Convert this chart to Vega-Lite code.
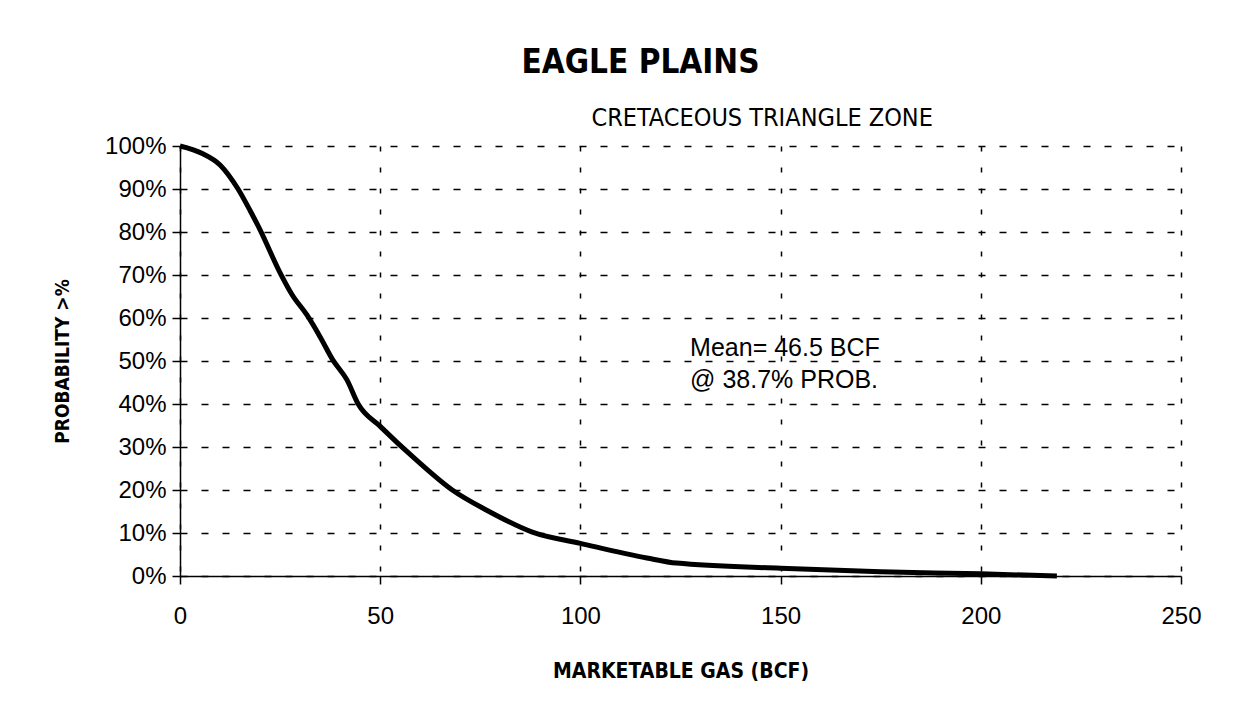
{
  "$schema": "https://vega.github.io/schema/vega-lite/v6.json",
  "width": 1001,
  "height": 430,
  "autosize": {"type": "none"},
  "padding": {"left": 180, "top": 146, "right": 58, "bottom": 145},
  "background": "white",
  "config": {
    "view": {"stroke": null},
    "font": "Liberation Sans",
    "axis": {
      "domainColor": "black",
      "domainWidth": 1.5,
      "tickColor": "black",
      "tickWidth": 1.5,
      "tickSize": 8,
      "labelColor": "black",
      "labelFontSize": 24,
      "labelFont": "Liberation Sans",
      "labelFlush": false,
      "titleColor": "black",
      "titleFontWeight": "bold",
      "titleFont": "DejaVu Sans Condensed",
      "gridColor": "black",
      "gridWidth": 1.5,
      "gridOpacity": 1
    }
  },
  "title": {
    "text": "EAGLE PLAINS",
    "font": "DejaVu Sans Condensed",
    "fontSize": 33,
    "fontWeight": "bold",
    "color": "black",
    "anchor": "middle",
    "dx": -40,
    "offset": 68,
    "dy": 42
  },
  "datasets": {
    "curve": [
      {"gas": 0, "prob": 1.0},
      {"gas": 5.7, "prob": 0.982},
      {"gas": 10, "prob": 0.956},
      {"gas": 14.5, "prob": 0.9},
      {"gas": 17.5, "prob": 0.85},
      {"gas": 20, "prob": 0.805},
      {"gas": 25, "prob": 0.705},
      {"gas": 28, "prob": 0.654},
      {"gas": 31.7, "prob": 0.607},
      {"gas": 35, "prob": 0.556},
      {"gas": 38.2, "prob": 0.502},
      {"gas": 41.7, "prob": 0.456},
      {"gas": 44.5, "prob": 0.4},
      {"gas": 50, "prob": 0.348},
      {"gas": 59, "prob": 0.27},
      {"gas": 68, "prob": 0.2},
      {"gas": 76.6, "prob": 0.153},
      {"gas": 88, "prob": 0.102},
      {"gas": 100, "prob": 0.076},
      {"gas": 116.6, "prob": 0.042},
      {"gas": 124, "prob": 0.03},
      {"gas": 150, "prob": 0.018},
      {"gas": 175, "prob": 0.01},
      {"gas": 200, "prob": 0.005},
      {"gas": 219, "prob": 0.0}
    ],
    "notes": [
      {"gas": 145.4, "prob": 1.065, "label": "CRETACEOUS TRIANGLE ZONE", "kind": "sub"},
      {"gas": 127.4, "prob": 0.53, "label": "Mean= 46.5 BCF", "kind": "note"},
      {"gas": 127.4, "prob": 0.455, "label": "@ 38.7% PROB.", "kind": "note"}
    ]
  },
  "layer": [
    {
      "data": {"name": "curve"},
      "mark": {"type": "line", "color": "black", "strokeWidth": 5, "interpolate": "monotone", "clip": false},
      "encoding": {
        "x": {
          "field": "gas", "type": "quantitative",
          "scale": {"domain": [0, 250], "nice": false},
          "axis": {
            "values": [0, 50, 100, 150, 200, 250],
            "title": "MARKETABLE GAS (BCF)",
            "titleFontSize": 21,
            "labelPadding": 20,
            "titlePadding": 32,
            "grid": true,
            "gridDash": [5, 16]
          }
        },
        "y": {
          "field": "prob", "type": "quantitative",
          "scale": {"domain": [0, 1], "nice": false},
          "axis": {
            "values": [0, 0.1, 0.2, 0.3, 0.4, 0.5, 0.6, 0.7, 0.8, 0.9, 1.0],
            "format": ".0%",
            "title": "PROBABILITY >%",
            "titleFontSize": 19,
            "labelPadding": 6,
            "titlePadding": 32,
            "grid": true,
            "gridDash": [7, 14]
          }
        }
      }
    },
    {
      "data": {"name": "notes"},
      "transform": [{"filter": "datum.kind == 'sub'"}],
      "mark": {"type": "text", "align": "center", "baseline": "middle", "fontSize": 25, "font": "DejaVu Sans Condensed", "color": "black", "clip": false},
      "encoding": {
        "x": {"field": "gas", "type": "quantitative"},
        "y": {"field": "prob", "type": "quantitative"},
        "text": {"field": "label"}
      }
    },
    {
      "data": {"name": "notes"},
      "transform": [{"filter": "datum.kind == 'note'"}],
      "mark": {"type": "text", "align": "left", "baseline": "middle", "fontSize": 25, "font": "Liberation Sans", "color": "black"},
      "encoding": {
        "x": {"field": "gas", "type": "quantitative"},
        "y": {"field": "prob", "type": "quantitative"},
        "text": {"field": "label"}
      }
    }
  ]
}
